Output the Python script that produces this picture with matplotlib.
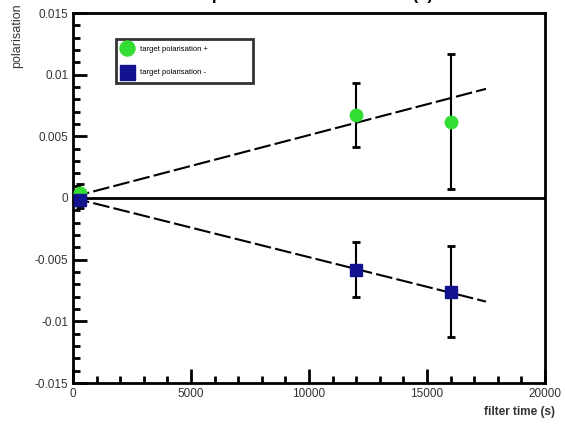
import numpy as np
import matplotlib
matplotlib.use("Agg")
import matplotlib.pyplot as plt
from matplotlib.ticker import MultipleLocator

plt.rcParams['font.family'] = ['Liberation Sans', 'DejaVu Sans']

# data
t_x = [300, 12000, 16000]
pol_x = [0.0004, 0.0067, 0.0062]
err_x = [0.0007, 0.0026, 0.0055]

t_y = [300, 12000, 16000]
pol_y = [-0.0002, -0.0058, -0.0076]
err_y = [0.0006, 0.0022, 0.0037]

# straight-line fits
fit_range = [0, 17500]
fit_x = (5.0e-7, 0.0001)    # slope, intercept
fit_y = (-4.8e-7, 0.0)

fig = plt.figure(figsize=(5.65, 4.26), dpi=100)
ax = fig.add_axes([73/565, 1-383/426, 472/565, 370/426])

ax.axhline(0, color="black", lw=2, zorder=1)

tt = np.array(fit_range)
ax.plot(tt, fit_x[0]*tt + fit_x[1], color="black", lw=1.5, dashes=(8, 2), zorder=2)
ax.plot(tt, fit_y[0]*tt + fit_y[1], color="black", lw=1.5, dashes=(8, 2), zorder=2)

ax.errorbar(t_x, pol_x, yerr=err_x, fmt="o", color="#33dd33", ecolor="black",
            elinewidth=1.5, capsize=3, capthick=2, ms=9, mec="#33dd33",
            label="target polarisation +", zorder=3)
ax.errorbar(t_y, pol_y, yerr=err_y, fmt="s", color="#12128e", ecolor="black",
            elinewidth=1.5, capsize=3, capthick=2, ms=9, mec="#12128e",
            label="target polarisation -", zorder=3)

ax.set_xlim(0, 20000)
ax.set_ylim(-0.015, 0.015)
ax.xaxis.set_minor_locator(MultipleLocator(1000))
ax.yaxis.set_minor_locator(MultipleLocator(0.001))
ax.set_yticks([-0.015, -0.01, -0.005, 0, 0.005, 0.01, 0.015])
ax.set_yticklabels(["-0.015", "-0.01", "-0.005", "0", "0.005", "0.01", "0.015"])
ax.set_xticks([0, 5000, 10000, 15000, 20000])
ax.set_xticklabels(["0", "5000", "10000", "15000", "20000"])
ax.tick_params(which="both", direction="in", top=False, right=False,
               labelsize=8.5, labelcolor="#333333", width=2)
ax.tick_params(which="major", length=10)
ax.tick_params(which="minor", length=5)
for s in ax.spines.values():
    s.set_linewidth(2)

fig.text(17/565, 1-3/426, "polarisation", rotation=90, ha="center", va="top",
         fontsize=9, color="#333333")
fig.text(555/565, 1-418/426, "filter time (s)", ha="right", va="bottom",
         fontsize=8.5, fontweight="bold", color="#333333")
fig.text(322/565, 1.0, "polarisation vs filter time (s)", ha="center",
         va="baseline", fontsize=12, fontweight="bold")

leg = ax.legend(loc="upper left",
                bbox_to_anchor=((112-73)/472, (383-83)/370, 145/472, 48/370),
                mode="expand", fontsize=5.5, frameon=True, fancybox=False,
                edgecolor="black", borderpad=0.9, handletextpad=1.0,
                labelspacing=2.1, handlelength=1.2, numpoints=1,
                markerscale=1.2)
leg.get_frame().set_linewidth(2)

fig.savefig("out.png", dpi=100)
